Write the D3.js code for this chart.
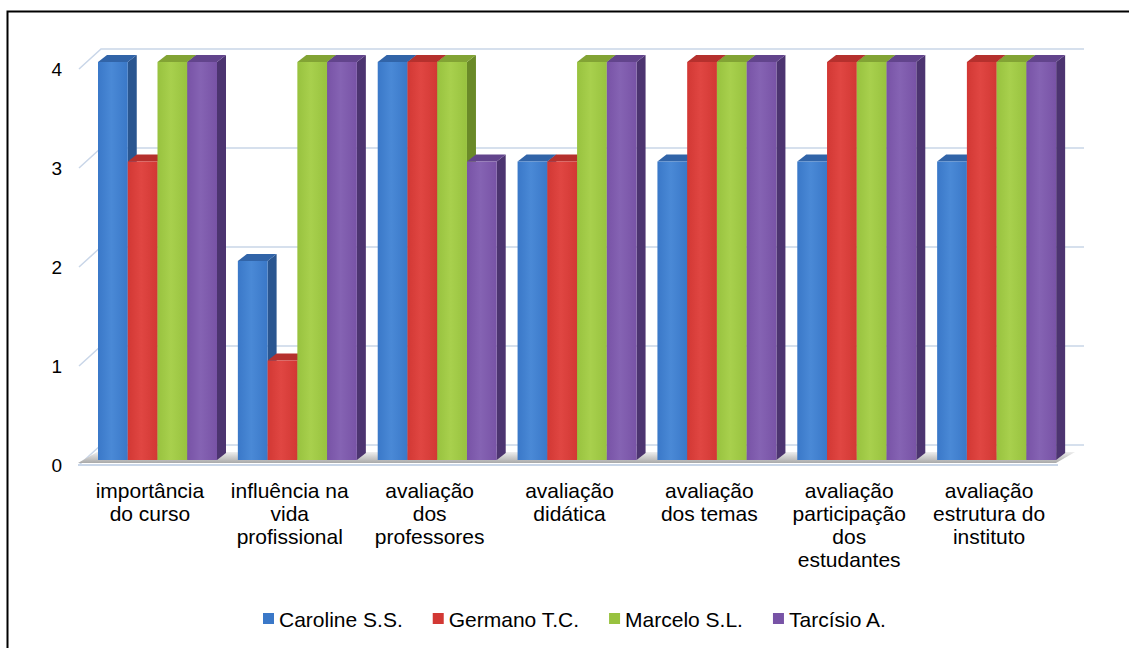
<!DOCTYPE html>
<html>
<head>
<meta charset="utf-8">
<script src="https://cdn.jsdelivr.net/npm/d3@7"></script>
<style>
  body { margin: 0; background: #fff; }
  text { font-family: "Liberation Sans", Arial, sans-serif; fill: #000; }
</style>
</head>
<body>
<script>

//DATA
var categories = ["importância do curso", "influência na vida profissional", "avaliação dos professores",
    "avaliação didática", "avaliação dos temas", "avaliação participação dos estudantes",
    "avaliação estrutura do instituto"];
var categoryLines = [["importância", "do curso"], ["influência na", "vida", "profissional"],
    ["avaliação", "dos", "professores"], ["avaliação", "didática"], ["avaliação", "dos temas"],
    ["avaliação", "participação", "dos", "estudantes"], ["avaliação", "estrutura do", "instituto"]];
var seriesNames = ["Caroline S.S.", "Germano T.C.", "Marcelo S.L.", "Tarcísio A."];
var caroline = [4, 2, 4, 3, 3, 3, 3];
var germano  = [3, 1, 4, 3, 4, 4, 4];
var marcelo  = [4, 4, 4, 4, 4, 4, 4];
var tarcisio = [4, 4, 3, 4, 4, 4, 4];
var yTicks = [0, 1, 2, 3, 4];

var seriesValues = [caroline, germano, marcelo, tarcisio];
var colors = [
    {front: "#3a78c8", light: "#4a89d6", side: "#2a5690", top: "#3164a8"},
    {front: "#d23834", light: "#e04642", side: "#9c2926", top: "#b5302d"},
    {front: "#98c23f", light: "#a8d04d", side: "#6a8a28", top: "#82a334"},
    {front: "#7853a6", light: "#8563b3", side: "#4c3470", top: "#62448c"}
];

var width = 1129, height = 648;

var svg = d3.select("body").append("svg").attr("width", width).attr("height", height);

//GRADIENTS
var defs = svg.append("defs");
colors.forEach(function(c, i){
    var g = defs.append("linearGradient").attr("id", "front" + i)
        .attr("x1", "0").attr("x2", "1").attr("y1", "0").attr("y2", "0");
    g.append("stop").attr("offset", "0%").attr("stop-color", c.front);
    g.append("stop").attr("offset", "45%").attr("stop-color", c.light);
    g.append("stop").attr("offset", "100%").attr("stop-color", c.front);
});
var fg = defs.append("linearGradient").attr("id", "floorGrad")
    .attr("x1", "0").attr("x2", "0").attr("y1", "1").attr("y2", "0");
fg.append("stop").attr("offset", "0%").attr("stop-color", "#a9a9a9");
fg.append("stop").attr("offset", "100%").attr("stop-color", "#eeeeee");

//BORDER (only left and top inside the picture)
svg.append("rect").attr("x", 7.5).attr("y", 11.5).attr("width", 1200).attr("height", 700)
    .attr("fill", "none").attr("stroke", "#000").attr("stroke-width", 2);

//SCALES
var xCat = d3.scaleBand().domain(categories).range([87, 1066]);
var xSer = d3.scaleBand().domain(seriesNames).range([11, 130]);
var yBar = d3.scaleLinear().domain([0, 4]).range([460, 62]);
var yWall = d3.scaleLinear().domain([0, 4]).range([465, 69]);

var wall = {xFront: 79, dx: 22, dy: -20, xRight: 1084};
var bar3d = {dx: 9, dy: -7};

//WALL GRIDLINES
var grid = svg.append("g").attr("stroke", "#c9d6e8").attr("stroke-width", 1.5).attr("fill", "none");
yTicks.forEach(function(t){
    var y = yWall(t);
    grid.append("path")
        .attr("d", "M" + wall.xFront + "," + y + "L" + (wall.xFront + wall.dx) + "," + (y + wall.dy) +
            "L" + wall.xRight + "," + (y + wall.dy));
});

//FLOOR
var y0 = yWall(0);
svg.append("path")
    .attr("d", "M78," + (y0 - 2) + "L97," + (y0 - 13) + "L1075," + (y0 - 13) + "L1056," + (y0 - 2) + "Z")
    .attr("fill", "url(#floorGrad)");
svg.append("line").attr("x1", 78).attr("x2", 1058).attr("y1", y0).attr("y2", y0)
    .attr("stroke", "#c9d6e8").attr("stroke-width", 2);

//BARS
var barsGroup = svg.append("g");
categories.forEach(function(cat, ci){
    seriesNames.forEach(function(s, si){
        var v = seriesValues[si][ci];
        var x0 = xCat(cat) + xSer(s), x1 = x0 + xSer.bandwidth();
        var yt = yBar(v), yb = yBar(0);
        var dx = bar3d.dx, dy = bar3d.dy;
        var g = barsGroup.append("g");
        // side face
        g.append("path")
            .attr("d", "M" + x1 + "," + yt + "L" + (x1 + dx) + "," + (yt + dy) + "L" + (x1 + dx) + "," + (yb + dy) +
                "L" + x1 + "," + yb + "Z")
            .attr("fill", colors[si].side);
        // top face
        g.append("path")
            .attr("d", "M" + x0 + "," + yt + "L" + (x0 + dx) + "," + (yt + dy) + "L" + (x1 + dx) + "," + (yt + dy) +
                "L" + x1 + "," + yt + "Z")
            .attr("fill", colors[si].top);
        // front face
        g.append("rect").attr("x", x0).attr("y", yt).attr("width", x1 - x0).attr("height", yb - yt)
            .attr("fill", "url(#front" + si + ")");
    });
});

//Y AXIS LABELS
svg.append("g").selectAll("text").data(yTicks).enter().append("text")
    .attr("x", 62).attr("y", function(d){return yWall(d);})
    .attr("dy", "0.36em").attr("text-anchor", "end").attr("font-size", 19)
    .text(function(d){return d;});

//CATEGORY LABELS
var labels = svg.append("g").attr("font-size", 21).attr("text-anchor", "middle");
categories.forEach(function(cat, ci){
    var cx = xCat(cat) + xCat.bandwidth() / 2 - 7;
    var t = labels.append("text").attr("x", cx).attr("y", 498);
    categoryLines[ci].forEach(function(line, li){
        t.append("tspan").attr("x", cx).attr("dy", li === 0 ? 0 : 23).text(line);
    });
});

//LEGEND
var legend = svg.append("g").attr("font-size", 21);
var lx = 263;
seriesNames.forEach(function(s, si){
    var item = legend.append("g").attr("transform", "translate(" + lx + ",0)");
    item.append("rect").attr("x", 0).attr("y", 613).attr("width", 11).attr("height", 11)
        .attr("fill", colors[si].front);
    var txt = item.append("text").attr("x", 16).attr("y", 627).text(s);
    lx += 16 + txt.node().getComputedTextLength() + 30;
});

</script>
</body>
</html>
